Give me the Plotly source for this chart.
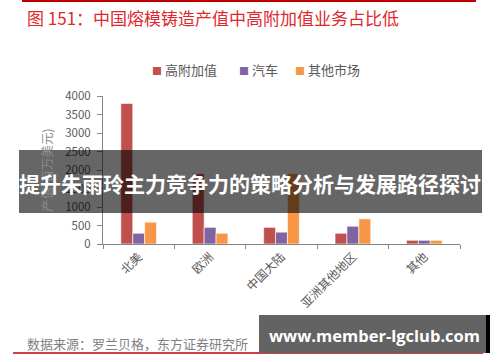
import plotly.graph_objects as go

categories = ["北美", "欧洲", "中国大陆", "亚洲其他地区", "其他"]
high_value = [3800, 1900, 450, 290, 100]
auto = [290, 450, 320, 480, 100]
other_market = [590, 290, 1900, 680, 100]
series_names = ["高附加值", "汽车", "其他市场"]
colors = ["#C0504D", "#8064A2", "#F79646"]

W, H = 500, 362
L, R, T, B = 103, 460, 96, 244


def px(x):
    return (x - L) / (R - L)


def py(y):
    return (B - y) / (B - T)


fig = go.Figure()
for name, vals, c in zip(series_names, [high_value, auto, other_market], colors):
    fig.add_trace(go.Bar(
        x=categories, y=vals, name=name,
        marker=dict(color=c, line=dict(color="rgba(255,255,255,0.6)", width=1)),
    ))

font_family = "Noto Sans CJK SC"
fig.update_layout(
    width=W, height=H,
    margin=dict(l=L, r=W - R, t=T, b=H - B, autoexpand=False),
    paper_bgcolor="white", plot_bgcolor="white",
    barmode="group", bargap=0.5, bargroupgap=0,
    font=dict(family=font_family, size=12, color="#595959"),
    showlegend=False,
    xaxis=dict(
        type="category", showline=True, linecolor="#868686", linewidth=1,
        ticks="outside", tickson="boundaries", ticklen=4, tickcolor="#868686",
        tickangle=-45, tickfont=dict(size=12, color="#595959"),
        showgrid=False, zeroline=False, automargin=False,
    ),
    yaxis=dict(
        range=[0, 4000], dtick=500, showline=True, linecolor="#868686", linewidth=1,
        ticks="outside", ticklen=5, tickcolor="#868686", ticklabelstandoff=4,
        tickfont=dict(size=11.5, color="#595959"), showgrid=False, zeroline=False,
        automargin=False,
        title=dict(text="产值(百万美元)", font=dict(size=12.5, color="#8c8c8c"), standoff=9),
    ),
)

shapes = [
    dict(type="line", xref="paper", yref="paper", x0=px(22), x1=px(476), y0=py(1), y1=py(1),
         line=dict(color="#C00000", width=2)),
    dict(type="line", xref="paper", yref="paper", x0=px(13), x1=px(483), y0=py(353), y1=py(353),
         line=dict(color="#C00000", width=1.5)),
    dict(type="rect", xref="paper", yref="paper", x0=px(19), x1=px(482), y0=py(150), y1=py(213),
         fillcolor="rgba(0,0,0,0.6)", line=dict(width=0), layer="above"),
    dict(type="rect", xref="paper", yref="paper", x0=px(259), x1=px(486), y0=py(315), y1=py(353),
         fillcolor="#636363", line=dict(width=0), layer="above"),
    dict(type="rect", xref="paper", yref="paper", x0=px(486), x1=px(490), y0=py(315), y1=py(353),
         fillcolor="#000000", line=dict(width=0), layer="above"),
]
fig.update_layout(shapes=shapes)

annotations = [
    dict(text="图 151：中国熔模铸造产值中高附加值业务占比低", xref="paper", yref="paper",
         x=px(25), y=py(17), xanchor="left", yanchor="middle", showarrow=False,
         font=dict(size=17, color="#E0282E", family=font_family)),
    dict(text="数据来源：罗兰贝格，东方证券研究所", xref="paper", yref="paper",
         x=px(25), y=py(343), xanchor="left", yanchor="middle", showarrow=False,
         font=dict(size=13, color="#7f7f7f", family=font_family)),
    dict(text="<b>提升朱雨玲主力竞争力的策略分析与发展路径探讨</b>", xref="paper", yref="paper",
         x=px(250), y=py(183), xanchor="center", yanchor="middle", showarrow=False,
         font=dict(size=21, color="white", family=font_family)),
    dict(text="<b>www.member-lgclub.com</b>", xref="paper", yref="paper",
         x=px(374), y=py(335), xanchor="center", yanchor="middle", showarrow=False,
         font=dict(size=16.5, color="white", family="Open Sans")),
]
# legend drawn as text items
legend_x = [150, 237, 293]
for name, c, lx in zip(series_names, colors, legend_x):
    annotations.append(dict(
        text=f"<span style='color:{c};font-size:10px'>■</span> {name}", xref="paper", yref="paper",
        x=px(lx), y=py(69), xanchor="left", yanchor="middle", showarrow=False,
        font=dict(size=13, color="#595959", family=font_family)))
fig.update_layout(annotations=annotations)

fig.write_html("out.html", post_script="document.body.style.margin='0';",
               config={"displayModeBar": False})
